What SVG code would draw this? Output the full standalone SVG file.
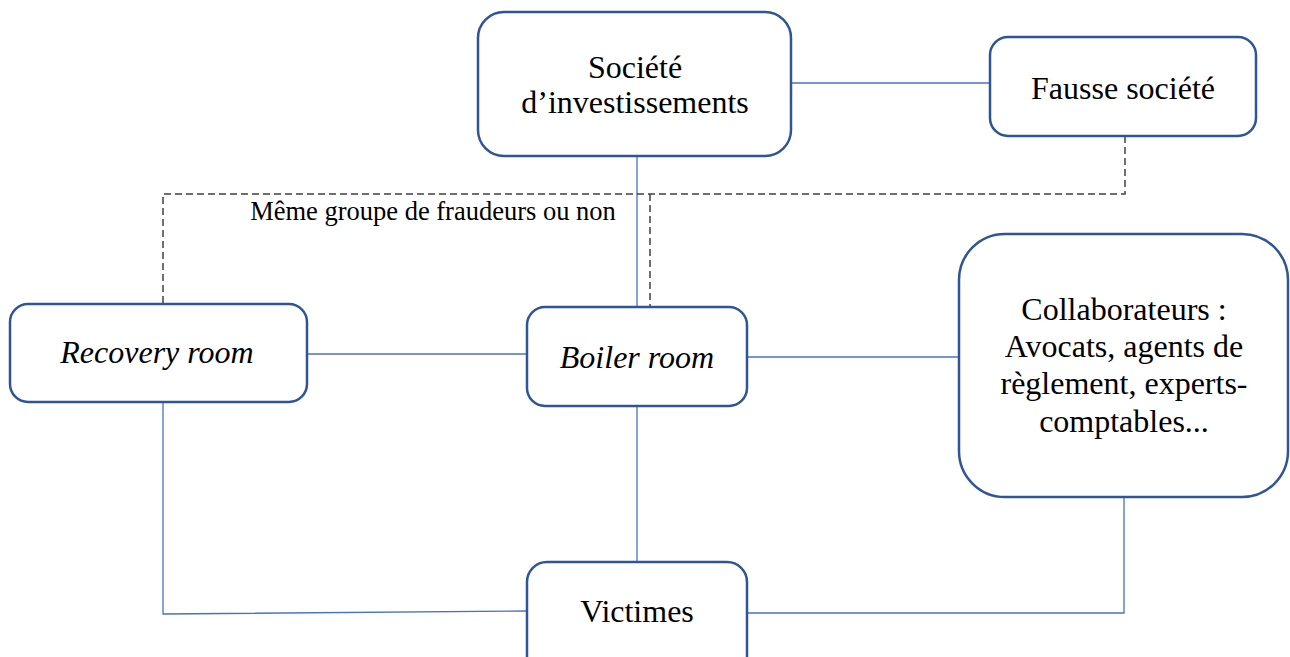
<svg xmlns="http://www.w3.org/2000/svg" width="1290" height="657" viewBox="0 0 1290 657">
<style>
.box{fill:#fff;stroke:#2F5597;stroke-width:2.5}
.t{font-family:"Liberation Serif","Times New Roman",serif;font-size:32px;fill:#000;text-anchor:middle}
.i{font-style:italic}
.c{fill:none;stroke:#4472C4;stroke-width:1.3}
.d{fill:none;stroke:#404040;stroke-width:1.5;stroke-dasharray:7 4}
</style>
<rect width="1290" height="657" fill="#fff"/>
<g id="connectors">
<line class="c" x1="792" y1="83" x2="990" y2="83"/>
<line class="c" x1="637" y1="156" x2="637" y2="307"/>
<line class="c" x1="307" y1="354" x2="527" y2="354"/>
<line class="c" x1="747" y1="357" x2="959" y2="357"/>
<line class="c" x1="637" y1="406" x2="637" y2="562"/>
<polyline class="c" points="163,402 163,614 527,611"/>
<polyline class="c" points="1124,497 1124,613 747,613"/>
<polyline class="d" points="1125,136 1125,194 163,194 163,304"/>
<line class="d" x1="650" y1="194" x2="650" y2="307"/>
<text class="t" x="433" y="220" style="font-size:26.5px">Même groupe de fraudeurs ou non</text>
</g>
<g id="societe">
<rect class="box" x="478" y="12" width="313" height="144" rx="26"/>
<text class="t" x="635" y="78">Société</text>
<text class="t" x="635" y="113">d’investissements</text>
</g>
<g id="fausse">
<rect class="box" x="990" y="37" width="266" height="99" rx="18"/>
<text class="t" x="1123" y="99">Fausse société</text>
</g>
<g id="recovery">
<rect class="box" x="10" y="304" width="297" height="98" rx="18"/>
<text class="t i" x="157" y="363">Recovery room</text>
</g>
<g id="boiler">
<rect class="box" x="527" y="307" width="220" height="99" rx="18"/>
<text class="t i" x="637" y="368">Boiler room</text>
</g>
<g id="collab">
<rect class="box" x="959" y="234" width="329" height="263" rx="46"/>
<text class="t" x="1124" y="320">Collaborateurs :</text>
<text class="t" x="1124" y="357">Avocats, agents de</text>
<text class="t" x="1124" y="394">règlement, experts-</text>
<text class="t" x="1124" y="432">comptables...</text>
</g>
<g id="victimes">
<rect class="box" x="527" y="562" width="220" height="115" rx="20"/>
<text class="t" x="637" y="622">Victimes</text>
</g>
</svg>
